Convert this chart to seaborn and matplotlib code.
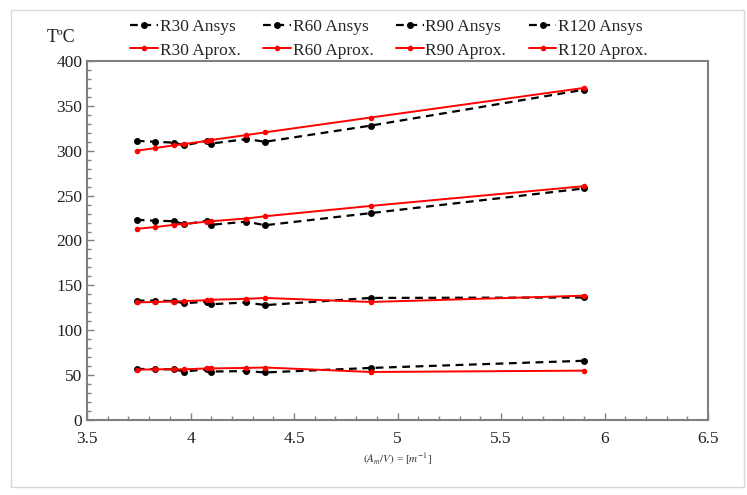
import matplotlib
matplotlib.use("Agg")
import matplotlib.pyplot as plt
from matplotlib.ticker import MultipleLocator
from matplotlib.patches import Rectangle
import seaborn as sns
import pandas as pd

# Section factor A_m/V [1/m]
x_vals = [3.74, 3.83, 3.92, 3.97, 4.08, 4.10, 4.27, 4.36, 4.87, 5.90]

# Temperatures (ºC) from the FE model (Ansys) and from the approximation
r30_ansys = [57, 56.5, 56.5, 54, 56.5, 54, 54.5, 53, 58, 66]
r30_aprox = [56, 56.5, 56.5, 56.5, 57.5, 57.5, 58, 58.5, 53.5, 55]
r60_ansys = [133, 133, 132.5, 130, 132, 129, 131, 128, 136, 136.5]
r60_aprox = [131, 131.5, 132, 132.5, 133.5, 134, 135, 136, 131.5, 138.5]
r90_ansys = [223, 222, 221.5, 218, 222, 217.5, 221, 217, 230.5, 258]
r90_aprox = [213, 215, 217.5, 218.5, 221, 221.5, 224.5, 227, 238.5, 260.5]
r120_ansys = [311, 310, 309, 306, 311, 308, 313, 310, 328, 368]
r120_aprox = [300, 303, 306, 307.5, 311, 312, 317.5, 320.5, 337, 370]

ratings = ["R30", "R60", "R90", "R120"]
ansys = [r30_ansys, r60_ansys, r90_ansys, r120_ansys]
aprox = [r30_aprox, r60_aprox, r90_aprox, r120_aprox]

x_ticks = [3.5, 4, 4.5, 5, 5.5, 6, 6.5]
y_ticks = [0, 50, 100, 150, 200, 250, 300, 350, 400]

sns.set_theme(style="white")
plt.rcParams["font.family"] = ["Liberation Serif", "DejaVu Serif"]
plt.rcParams["mathtext.fontset"] = "stix"

fig = plt.figure(figsize=(7.47, 4.95), dpi=100)
ax = fig.add_axes([0.1165, 0.1515, 0.8315, 0.7253])

for name, ya, yp in zip(ratings, ansys, aprox):
    df = pd.DataFrame({"x": x_vals, "ansys": ya, "aprox": yp})
    sns.lineplot(data=df, x="x", y="ansys", ax=ax, sort=False, color="black",
                 linestyle=(0, (3.5, 2.5)), linewidth=1.6, marker="o",
                 markersize=5, markeredgewidth=0, label=f"{name} Ansys")
    sns.lineplot(data=df, x="x", y="aprox", ax=ax, sort=False, color="#ff0000",
                 linewidth=1.4, marker="o", markersize=4, markeredgewidth=0,
                 label=f"{name} Aprox.")

ax.set_xlim(3.5, 6.5)
ax.set_ylim(0, 400)
ax.set_xticks(x_ticks)
ax.set_xticklabels([f"{t:g}" for t in x_ticks])
ax.set_yticks(y_ticks)
ax.xaxis.set_minor_locator(MultipleLocator(0.1))
ax.yaxis.set_minor_locator(MultipleLocator(10))
ax.tick_params(axis="both", which="both", direction="in", colors="#808080",
               labelcolor="#222222", labelsize=12.5)
ax.tick_params(axis="both", which="major", length=5, width=1)
ax.tick_params(axis="both", which="minor", length=3, width=1)
ax.tick_params(axis="both", which="both", left=True, bottom=True)
ax.tick_params(axis="x", pad=8)
for s in ax.spines.values():
    s.set_visible(True)
    s.set_color("#808080")
    s.set_linewidth(1.5)

ax.set_xlabel(r"$(A_m/V)$ = [$m^{-1}$]", fontsize=8, color="#333333", labelpad=3)
ax.set_ylabel("")
ax.legend_.remove()

h, l = ax.get_legend_handles_labels()
order = []
for i in range(4):
    order += [2 * i, 2 * i + 1]
fig.legend([h[i] for i in order], [l[i] for i in order], ncol=4,
           loc="upper left", bbox_to_anchor=(0.165, 0.975), frameon=False,
           fontsize=12.5, handlelength=1.6, handletextpad=0.1,
           columnspacing=1.3, labelspacing=0.4, borderaxespad=0)

fig.text(0.062, 0.915, "TºC", fontsize=13, color="#222222")

fig.patches.append(Rectangle((11 / 747, 1 - 487 / 495), 733 / 747, 477 / 495,
                             transform=fig.transFigure, fill=False,
                             edgecolor="#d8d8d8", linewidth=1))

fig.savefig("out.png", dpi=100)
